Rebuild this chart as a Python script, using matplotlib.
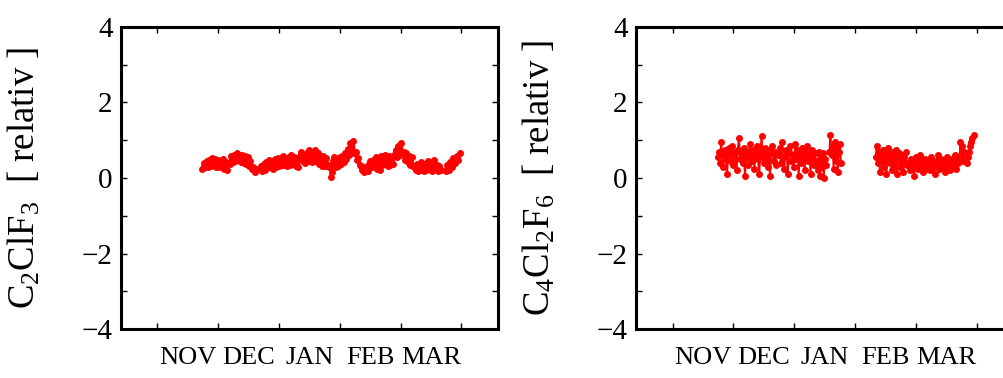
import numpy as np
import matplotlib
matplotlib.use("Agg")
import matplotlib.pyplot as plt

plt.rcParams['font.family'] = ['Liberation Serif', 'DejaVu Serif']
plt.rcParams['mathtext.fontset'] = 'custom'
plt.rcParams['mathtext.rm'] = 'Liberation Serif'
plt.rcParams['mathtext.it'] = 'Liberation Serif'

months = ['NOV', 'DEC', 'JAN', 'FEB', 'MAR']

# x in months (0 = start of NOV), segments separated by gaps
c2clf3_segments = [
    ((0.74, 1.62), [0.25, 0.40, 0.28, 0.45, 0.30, 0.48, 0.32, 0.52, 0.35, 0.50, 0.30, 0.48,
                    0.28, 0.45, 0.32, 0.50, 0.25, 0.42, 0.22, 0.40, 0.38, 0.58, 0.42, 0.62,
                    0.45, 0.65, 0.48, 0.62, 0.42, 0.62, 0.40, 0.58, 0.38, 0.55, 0.32, 0.45,
                    0.25, 0.30, 0.15, 0.25]),
    ((1.70, 2.82), [0.32, 0.18, 0.38, 0.22, 0.42, 0.28, 0.48, 0.30, 0.45, 0.25, 0.50, 0.30,
                    0.52, 0.32, 0.50, 0.35, 0.58, 0.35, 0.52, 0.32, 0.55, 0.35, 0.62, 0.38,
                    0.55, 0.32, 0.52, 0.30, 0.58, 0.68, 0.45, 0.62, 0.40, 0.66, 0.45, 0.75,
                    0.48, 0.42, 0.62, 0.75, 0.45, 0.65, 0.38, 0.55, 0.32, 0.58, 0.32, 0.52,
                    0.35, 0.30]),
    ((2.85, 2.90), [0.02, 0.15, 0.30, 0.45, 0.55]),
    ((2.93, 4.66), [0.30, 0.48, 0.32, 0.55, 0.38, 0.58, 0.42, 0.66, 0.50, 0.76, 0.60, 0.92,
                    0.70, 0.98, 0.65, 0.68, 0.48, 0.52, 0.35, 0.32, 0.20, 0.15, 0.28, 0.22,
                    0.18, 0.38, 0.45, 0.28, 0.48, 0.32, 0.55, 0.25, 0.50, 0.22, 0.58, 0.35,
                    0.52, 0.62, 0.38, 0.32, 0.58, 0.35, 0.55, 0.38, 0.62, 0.75, 0.55, 0.85,
                    0.60, 0.92, 0.66, 0.68, 0.48, 0.65, 0.42, 0.58, 0.35, 0.55, 0.32, 0.28,
                    0.22, 0.38, 0.18, 0.35, 0.42, 0.22, 0.18, 0.38, 0.22, 0.45, 0.25, 0.40,
                    0.18, 0.35, 0.48, 0.28, 0.35, 0.18, 0.32, 0.20]),
    ((4.74, 4.97), [0.18, 0.35, 0.22, 0.42, 0.30, 0.52, 0.40, 0.58, 0.48, 0.65]),
]

c4cl2f6_segments = [
    ((0.74, 1.70), [0.55, 0.70, 0.40, 0.95, 0.60, 0.30, 0.75, 0.50, 0.10, 0.65, 0.80, 0.45,
                    0.85, 0.35, 0.60, 0.70, 0.20, 0.75, 1.05, 0.50, 0.65, 0.40, 0.80, 0.05,
                    0.55, 0.70, 0.35, 0.90, 0.60, 0.45, 0.75, 0.25, 0.65, 0.85, 0.50, 0.10,
                    0.70, 1.10, 0.55, 0.40, 0.80, 0.60, 0.30, 0.75, 0.05, 0.65, 0.85, 0.45,
                    0.70, 0.35]),
    ((1.74, 2.35), [0.60, 0.80, 0.40, 0.95, 0.55, 0.25, 0.75, 0.65, 0.10, 0.70, 0.85, 0.45,
                    0.60, 0.30, 0.90, 0.50, 0.75, 0.05, 0.65, 0.40, 0.80, 0.55, 0.20, 0.70,
                    0.85, 0.45, 0.60, 0.10, 0.75, 0.50, 0.35, 0.65]),
    ((2.37, 2.52), [0.45, 0.20, 0.70, 0.05, 0.55, 0.30, 0.65, 0.00, 0.50, 0.35]),
    ((2.58, 2.77), [0.70, 1.15, 0.60, 0.85, 0.25, 0.95, 0.45, 0.80, 0.15, 0.70, 0.90, 0.40]),
    ((3.34, 3.85), [0.55, 0.85, 0.40, 0.70, 0.15, 0.60, 0.45, 0.75, 0.30, 0.65, 0.10, 0.55,
                    0.80, 0.40, 0.60, 0.20, 0.70, 0.50, 0.35, 0.75, 0.10, 0.55, 0.65, 0.30,
                    0.60, 0.45, 0.15, 0.55, 0.70, 0.35]),
    ((3.88, 4.70), [0.40, 0.20, 0.50, 0.30, 0.45, 0.05, 0.35, 0.55, 0.25, 0.40, 0.60, 0.30,
                    0.45, 0.15, 0.40, 0.50, 0.25, 0.35, 0.45, 0.20, 0.55, 0.30, 0.40, 0.10,
                    0.45, 0.35, 0.60, 0.25, 0.40, 0.50, 0.30, 0.45, 0.15, 0.40, 0.55, 0.30,
                    0.45, 0.20, 0.50, 0.35, 0.45, 0.60, 0.25, 0.50, 0.40]),
    ((4.72, 4.80), [0.55, 0.95, 0.60, 0.85, 0.45, 0.70]),
    ((4.84, 4.95), [0.40, 0.55, 0.70, 0.85, 0.95, 1.05, 1.15]),
]


def build_series(segments):
    xs, ys = [], []
    for (x0, x1), vals in segments:
        xs.extend(np.linspace(x0, x1, len(vals)))
        ys.extend(vals)
        xs.append(np.nan)
        ys.append(np.nan)
    return np.array(xs), np.array(ys)


def style_axis(ax, label, label_x):
    ax.set_xlim(-0.6, 5.6)
    ax.set_ylim(-4, 4)
    ax.set_yticks(range(-4, 5))
    ax.set_yticklabels([str(v).replace('-', '\u2212') if v % 2 == 0 else ''
                        for v in range(-4, 5)])
    ax.set_xticks(range(0, 6))
    ax.set_xticklabels([])
    ax.set_xticks([m + 0.5 for m in range(5)], minor=True)
    ax.set_xticklabels(months, minor=True)
    ax.tick_params(axis='x', which='minor', length=0, pad=13, labelsize=19)
    ax.tick_params(axis='both', which='major', direction='in', length=4, width=1,
                   top=True, right=True, labelsize=21, pad=6)
    for s in ax.spines.values():
        s.set_linewidth(2.2)
    ax.set_ylabel(label, fontsize=26.5)
    ax.yaxis.set_label_coords(label_x, 0.5)


fig = plt.figure(figsize=(10.04, 3.78), dpi=100)
ax1 = fig.add_axes([0.1205, 0.1296, 0.3755, 0.799])
ax2 = fig.add_axes([0.6335, 0.1296, 0.3755, 0.799])

x, y = build_series(c2clf3_segments)
ax1.plot(x, y, '-', color='red', lw=2.5, marker='o', ms=4)
style_axis(ax1, r'$\mathrm{C_2ClF_3}$  [ relativ ]', -0.207)

x, y = build_series(c4cl2f6_segments)
ax2.plot(x, y, '-', color='red', lw=1.4, marker='o', ms=4)
style_axis(ax2, r'$\mathrm{C_4Cl_2F_6}$  [ relativ ]', -0.207)

fig.savefig('out.png', dpi=100)
